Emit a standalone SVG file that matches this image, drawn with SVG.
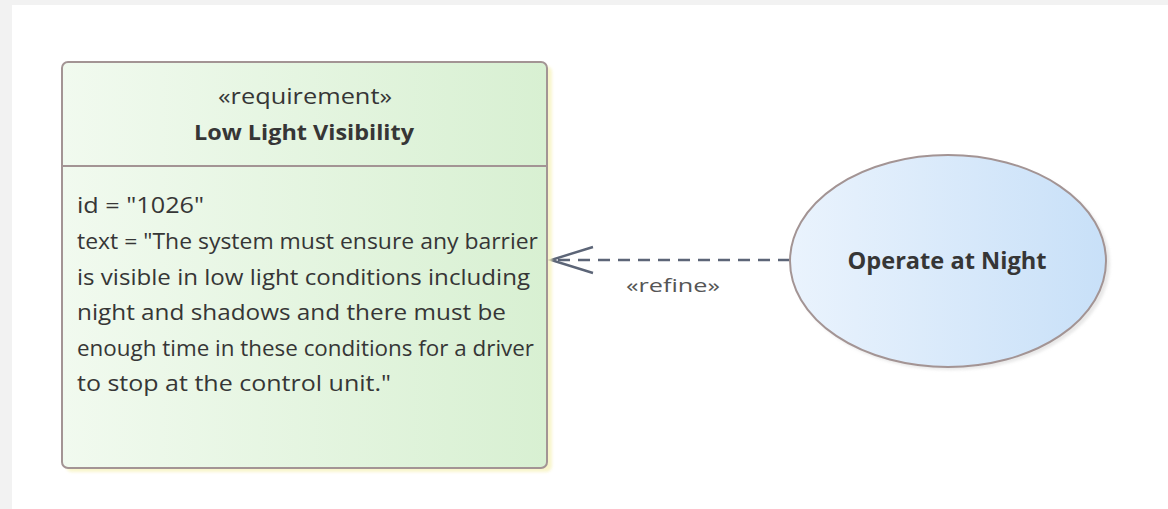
<svg xmlns="http://www.w3.org/2000/svg" width="1168" height="509" viewBox="0 0 1168 509">
<defs>
<linearGradient id="gReq" x1="0" y1="0" x2="1" y2="0">
<stop offset="0" stop-color="#f1faef"/>
<stop offset="1" stop-color="#d8f0d2"/>
</linearGradient>
<linearGradient id="gUc" x1="0" y1="0" x2="1" y2="0">
<stop offset="0" stop-color="#eaf3fd"/>
<stop offset="1" stop-color="#c8e0f8"/>
</linearGradient>
<filter id="blur" x="-10%" y="-10%" width="120%" height="120%"><feGaussianBlur stdDeviation="1.5"/></filter>
</defs>
<style>
text{font-family:"Open Sans","Liberation Sans",sans-serif;fill:#363636}
.b{font-weight:bold}
.body{font-size:21px}
.edge{fill:none;stroke:#5c6577;stroke-width:2.4}
.outline{stroke:#a39494;stroke-width:2}
</style>
<rect x="0" y="0" width="1168" height="509" fill="#f2f2f2"/>
<rect x="12" y="5" width="1156" height="504" fill="#ffffff"/>

<g id="connectors">
<line class="edge" x1="790" y1="260" x2="553" y2="260" stroke-dasharray="12 8"/>
<polyline class="edge" points="593,247 551,260 593,273"/>
<text x="673" y="292" font-size="19" text-anchor="middle" textLength="94" lengthAdjust="spacingAndGlyphs" style="fill:#555555">«refine»</text>
</g>

<g id="req">
<rect x="66" y="66" width="486" height="406" rx="6" fill="#f7f3c0" opacity="0.8" filter="url(#blur)"/>
<rect x="62" y="62" width="485" height="406" rx="6" fill="url(#gReq)" class="outline"/>
<line x1="62" y1="166" x2="547" y2="166" class="outline"/>
<text x="305" y="104" font-size="21" text-anchor="middle" textLength="174" lengthAdjust="spacingAndGlyphs">«requirement»</text>
<text x="304" y="140" font-size="22" class="b" text-anchor="middle" textLength="220" lengthAdjust="spacingAndGlyphs">Low Light Visibility</text>
<text class="body" x="77" y="213" textLength="127" lengthAdjust="spacingAndGlyphs">id = "1026"</text>
<text class="body" x="77" y="249" textLength="461" lengthAdjust="spacingAndGlyphs">text = "The system must ensure any barrier</text>
<text class="body" x="77" y="285" textLength="453" lengthAdjust="spacingAndGlyphs">is visible in low light conditions including</text>
<text class="body" x="77" y="320" textLength="429" lengthAdjust="spacingAndGlyphs">night and shadows and there must be</text>
<text class="body" x="77" y="356" textLength="457" lengthAdjust="spacingAndGlyphs">enough time in these conditions for a driver</text>
<text class="body" x="77" y="391" textLength="314" lengthAdjust="spacingAndGlyphs">to stop at the control unit."</text>
</g>

<g id="usecase">
<ellipse cx="951" cy="264" rx="159" ry="106" fill="#d8d8d8" opacity="0.6" filter="url(#blur)"/>
<ellipse cx="948" cy="261" rx="158" ry="106" fill="url(#gUc)" class="outline"/>
<text x="947" y="269" font-size="23" class="b" text-anchor="middle" textLength="199" lengthAdjust="spacingAndGlyphs">Operate at Night</text>
</g>
</svg>
